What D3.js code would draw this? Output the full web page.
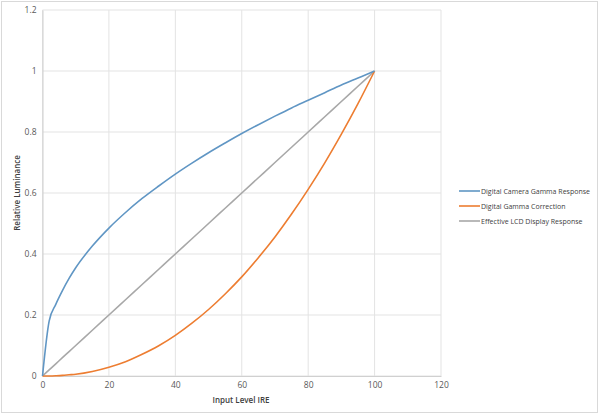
<!DOCTYPE html>
<html><head><meta charset="utf-8">
<script src="https://cdn.jsdelivr.net/npm/d3@7"></script>
<style>body{margin:0;background:#fff;}svg{display:block;}</style>
</head><body>
<svg id="c" width="600" height="416"></svg>
<script>
const inputLevels = [0,2,4,6,8,10,15,20,25,30,35,40,45,50,55,60,65,70,75,80,85,90,95,100];
const cameraResponse = [0,0.18,0.235,0.28,0.32,0.355,0.426,0.485,0.536,0.582,0.623,0.662,0.698,0.732,0.764,0.795,0.824,0.852,0.879,0.904,0.929,0.954,0.977,1];
const gammaCorrection = [0,0.0002,0.0009,0.002,0.004,0.006,0.015,0.029,0.047,0.071,0.099,0.133,0.173,0.218,0.269,0.325,0.388,0.456,0.531,0.612,0.699,0.793,0.893,1];
const displayResponse = [0,0.02,0.04,0.06,0.08,0.1,0.15,0.2,0.25,0.3,0.35,0.4,0.45,0.5,0.55,0.6,0.65,0.7,0.75,0.8,0.85,0.9,0.95,1];
const xTicks = [0,20,40,60,80,100,120];
const yTicks = [0,0.2,0.4,0.6,0.8,1,1.2];
const seriesNames = ["Digital Camera Gamma Response","Digital Gamma Correction","Effective LCD Display Response"];
const seriesColors = ["#6096c4","#ed7d31","#a8a8a8"];
const xTitle = "Input Level IRE";
const yTitle = "Relative Luminance";

const svg = d3.select("#c");
svg.append("rect").attr("x",1.5).attr("y",1.5).attr("width",596).attr("height",411)
  .attr("fill","#fff").attr("stroke","#d9d9d9");

const x = d3.scaleLinear().domain([0,120]).range([42.5,441]);
const y = d3.scaleLinear().domain([0,1.2]).range([376,10]);

const font = "'Open Sans', 'Liberation Sans', sans-serif";

// grid
svg.append("g").selectAll("line").data(xTicks).join("line")
  .attr("x1",d=>x(d)).attr("x2",d=>x(d)).attr("y1",y(0)).attr("y2",y(1.2))
  .attr("stroke","#e3e3e3").attr("stroke-width",1);
svg.append("g").selectAll("line").data(yTicks).join("line")
  .attr("x1",x(0)).attr("x2",x(120)).attr("y1",d=>y(d)).attr("y2",d=>y(d))
  .attr("stroke","#e3e3e3").attr("stroke-width",1);

// axes
const xAxis = svg.append("g").attr("transform",`translate(0,${y(0)})`)
  .call(d3.axisBottom(x).tickValues(xTicks).tickSize(0).tickPadding(6).tickFormat(d3.format("d")));
const yAxis = svg.append("g").attr("transform",`translate(${x(0)},0)`)
  .call(d3.axisLeft(y).tickValues(yTicks).tickSize(0).tickPadding(6).tickFormat(d=>String(+d.toFixed(1))));
[xAxis,yAxis].forEach(a=>{
  a.select(".domain").attr("stroke","#d0d0d0");
  a.selectAll("text").attr("fill","#595959").style("font-family",font).style("font-size","8.5px");
});

svg.append("text").attr("x",241).attr("y",403).attr("text-anchor","middle")
  .attr("fill","#404040").style("font-family",font).style("font-size","8px").style("font-weight","600")
  .text(xTitle);
svg.append("text").attr("transform",`translate(20,${y(0.6)}) rotate(-90)`).attr("text-anchor","middle")
  .attr("fill","#404040").style("font-family",font).style("font-size","8px").style("font-weight","600")
  .text(yTitle);

const allSeries = [cameraResponse,gammaCorrection,displayResponse];
const line = d3.line().x((d,i)=>x(inputLevels[i])).y(d=>y(d)).curve(d3.curveMonotoneX);
[2,1,0].forEach(k=>{
  svg.append("path").datum(allSeries[k]).attr("d",line)
    .attr("fill","none").attr("stroke",seriesColors[k]).attr("stroke-width",1.6)
    .attr("stroke-linejoin","round");
});

// legend
const lg = svg.append("g");
seriesNames.forEach((n,i)=>{
  const yy = 191 + i*15;
  lg.append("line").attr("x1",459).attr("x2",480).attr("y1",yy).attr("y2",yy)
    .attr("stroke",seriesColors[i]).attr("stroke-width",1.6);
  lg.append("text").attr("x",481).attr("y",yy+3).attr("fill","#404040")
    .style("font-family",font).style("font-size","7px").text(n);
});
</script>
</body></html>
